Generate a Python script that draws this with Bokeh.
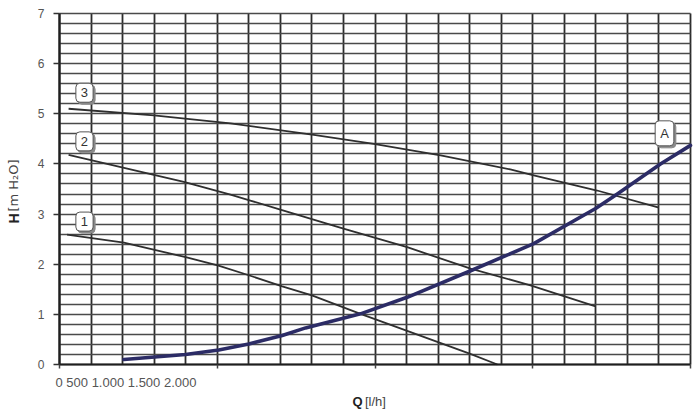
import numpy as np
from bokeh.plotting import figure
from bokeh.models import FixedTicker, Label
from bokeh.embed import file_html
from bokeh.resources import INLINE

# ---- data (Q in l/h, H in m H2O) ----
q1 = [60, 510, 1000, 1260, 1500, 1765, 2000, 2385, 3255, 3470]
h1 = [2.59, 2.43, 2.14, 1.97, 1.78, 1.56, 1.38, 1.01, 0.21, 0.0]

q2 = [72, 985, 1355, 1512, 1750, 2250, 2755, 3258, 3732, 4248]
h2 = [4.18, 3.64, 3.39, 3.27, 3.09, 2.71, 2.34, 1.91, 1.58, 1.16]

q3 = [72, 748, 1355, 2015, 2490, 3020, 3572, 3758, 4260, 4750]
h3 = [5.10, 4.97, 4.81, 4.58, 4.40, 4.17, 3.89, 3.77, 3.47, 3.13]

qA = [510, 998, 1262, 1500, 1765, 1950, 2385, 2755, 3258, 3758, 4248, 4420, 4762, 5000]
hA = [0.10, 0.20, 0.29, 0.41, 0.58, 0.73, 1.01, 1.34, 1.87, 2.41, 3.11, 3.40, 4.00, 4.37]

x_tick_labels = ["0", "500", "1.000", "1.500", "2.000"]
y_ticks = [0, 1, 2, 3, 4, 5, 6, 7]
curve_names = ["1", "2", "3", "A"]

X_MAX = 5000
Y_MAX = 7
GRID_DX = 250
GRID_DY = 0.2

# ---- layout: the frame fills the whole canvas; the chart box sits inside it ----
W, H = 698, 415
BOX_L, BOX_R, BOX_T, BOX_B = 59, 690, 13, 364
qpp = X_MAX / (BOX_R - BOX_L)
hpp = Y_MAX / (BOX_B - BOX_T)
x_range = (-BOX_L * qpp, X_MAX + (W - BOX_R) * qpp)
y_range = (-(H - BOX_B) * hpp, Y_MAX + BOX_T * hpp)

p = figure(frame_width=W, frame_height=H,
           x_range=x_range, y_range=y_range,
           min_border=0, output_backend="svg", toolbar_location=None)
p.background_fill_color = "white"
p.border_fill_color = "white"
p.outline_line_color = None

# grid
p.xgrid.ticker = FixedTicker(ticks=list(np.arange(0, X_MAX + 1, GRID_DX)))
p.xgrid.bounds = (0, X_MAX)
p.xgrid.cross_bounds = (0, Y_MAX)
p.xgrid.grid_line_color = "#2c2c2c"
p.xgrid.grid_line_width = 1.8
p.ygrid.ticker = FixedTicker(ticks=[round(v, 2) for v in np.arange(0, Y_MAX + 0.01, GRID_DY)])
p.ygrid.bounds = (0, Y_MAX)
p.ygrid.cross_bounds = (0, X_MAX)
p.ygrid.grid_line_color = "#4a4a4a"
p.ygrid.grid_line_width = 1.7

# y axis, pinned at Q = 0
ya = p.yaxis[0]
ya.fixed_location = 0
ya.bounds = (0, Y_MAX)
ya.ticker = FixedTicker(ticks=y_ticks)
ya.major_tick_out = 6
ya.major_tick_in = 0
ya.minor_tick_out = 0
ya.minor_tick_in = 0
ya.major_label_standoff = 9
ya.major_label_text_font = "Liberation Sans"
ya.major_label_text_font_size = "12px"
ya.major_label_text_color = "#555555"
ya.axis_line_color = "#1e1e1e"
ya.axis_line_width = 2.2
ya.major_tick_line_color = "#333333"
ya.major_tick_line_width = 1.5

# x axis, pinned at H = 0
xa = p.xaxis[0]
xa.fixed_location = 0
xa.bounds = (0, X_MAX)
xa.ticker = FixedTicker(ticks=[0, 1250, 2500, 3750, 5000])
xa.major_label_overrides = {0: "", 1250: "", 2500: "", 3750: "", 5000: ""}
xa.major_tick_out = 4
xa.major_tick_in = 0
xa.minor_tick_out = 0
xa.minor_tick_in = 0
xa.axis_line_color = "#1e1e1e"
xa.axis_line_width = 2.2
xa.major_tick_line_color = "#444444"
xa.major_tick_line_width = 1.5

# curves
curve_col = "#2f2f2f"
p.line(q1, h1, line_color=curve_col, line_width=1.8, line_join="round")
p.line(q2, h2, line_color=curve_col, line_width=1.8, line_join="round")
p.line(q3, h3, line_color=curve_col, line_width=1.8, line_join="round")
p.line(qA, hA, line_color="#2c2c66", line_width=3.6, line_join="round", line_cap="round")

# boxed curve labels
label_pos = {"3": (198, 5.42), "2": (198, 4.45), "1": (198, 2.85), "A": (4794, 4.61)}
for name in curve_names:
    x, y = label_pos[name]
    shadow = Label(x=x, y=y, x_offset=2, y_offset=-2, text=name,
                   text_align="center", text_baseline="middle",
                   text_font="Liberation Sans", text_font_size="13px",
                   text_color="#8a8a8a",
                   background_fill_color="#8a8a8a", border_line_color="#8a8a8a",
                   padding=5, border_radius=4)
    box = Label(x=x, y=y, text=name,
                text_align="center", text_baseline="middle",
                text_font="Liberation Sans", text_font_size="13px",
                text_color="#333333",
                background_fill_color="white", border_line_color="#555555",
                border_line_width=1, padding=5, border_radius=4)
    p.add_layout(shadow)
    p.add_layout(box)

# x tick labels (as drawn in the reference, clustered at the left)
p.add_layout(Label(x=0, y=0, x_offset=-4, y_offset=-18,
                   text=" ".join(x_tick_labels),
                   text_align="left", text_baseline="middle",
                   text_font="Liberation Sans", text_font_size="13px",
                   text_color="#555555"))

# x axis title
p.add_layout(Label(x=X_MAX / 2, y=0, x_offset=-12.5, y_offset=-37, text="Q",
                   text_align="right", text_baseline="middle",
                   text_font="Liberation Sans", text_font_size="13px",
                   text_font_style="bold", text_color="#222222"))
p.add_layout(Label(x=X_MAX / 2, y=0, x_offset=-10, y_offset=-37, text="[l/h]",
                   text_align="left", text_baseline="middle",
                   text_font="Liberation Sans", text_font_size="13px",
                   text_color="#444444"))

# y axis title (rotated)
p.add_layout(Label(x=0, y=2.81, x_offset=-46, text="H", angle=np.pi / 2,
                   text_align="left", text_baseline="middle",
                   text_font="Liberation Sans", text_font_size="14px",
                   text_font_style="bold", text_color="#222222"))
p.add_layout(Label(x=0, y=3.05, x_offset=-46, text="[m H\u2082O]", angle=np.pi / 2,
                   text_align="left", text_baseline="middle",
                   text_font="DejaVu Sans", text_font_size="13px",
                   text_color="#444444"))

open("out.html", "w").write(file_html(p, INLINE))
